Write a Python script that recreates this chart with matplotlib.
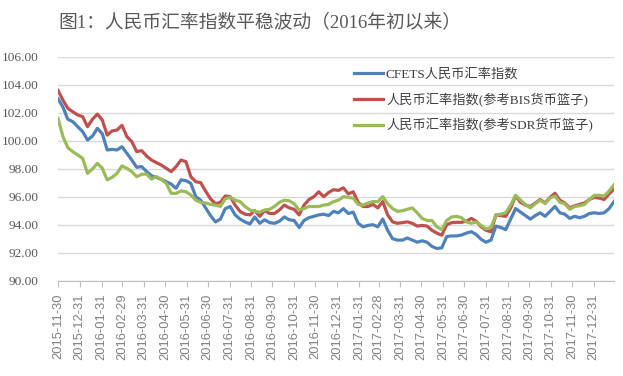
import matplotlib
matplotlib.use("Agg")
import matplotlib.pyplot as plt
import pandas as pd

# ---- data (weekly) ----
start_date = "2015-11-30"
n_weeks = 114
dates = pd.date_range(start_date, periods=n_weeks, freq="7D")

cfets = [103.0, 102.4, 101.53, 101.36, 101.0, 100.65, 100.05, 100.33, 100.88, 100.5,
         99.34, 99.38, 99.34, 99.57, 99.1, 98.62, 98.1, 98.15, 97.8, 97.5,
         97.38, 97.24, 97.07, 96.9, 96.6, 97.2, 97.15, 96.95, 96.0,
         95.75, 95.2, 94.65, 94.2, 94.4, 95.15, 95.3, 94.7, 94.4, 94.2,
         94.05, 94.55, 94.1, 94.35, 94.15, 94.1, 94.25, 94.55, 94.35, 94.3,
         93.8, 94.3, 94.5, 94.6, 94.7, 94.75, 94.65, 94.95, 94.85,
         95.15, 94.8, 94.9, 94.1, 93.85, 93.95, 94.0, 93.85, 94.4, 93.6,
         93.0, 92.9, 92.9, 93.05, 92.9, 92.75, 92.85, 92.75, 92.45, 92.3,
         92.35, 93.15, 93.2, 93.2, 93.26, 93.4, 93.5, 93.3,
         92.95, 92.75, 92.9, 93.9, 93.8, 93.65, 94.4, 95.15, 94.9, 94.65,
         94.4, 94.65, 94.85, 94.6, 94.95, 95.3, 94.85, 94.75, 94.45, 94.6,
         94.5, 94.6, 94.8, 94.85, 94.8, 94.85, 95.15, 95.65]

bis = [103.6, 102.9, 102.31, 102.07, 101.84, 101.72, 101.0, 101.53, 101.9, 101.48,
       100.4, 100.7, 100.76, 101.1, 100.29, 99.93, 99.22, 99.29, 98.91, 98.62,
       98.43, 98.26, 98.03, 97.79, 98.15, 98.62, 98.5, 97.43, 97.07,
       97.0, 96.4, 95.85, 95.5, 95.6, 96.05, 96.0, 95.4, 94.95, 94.75,
       94.7, 95.0, 94.6, 95.0, 94.8, 94.8, 95.05, 95.4, 95.2, 95.1,
       94.7, 95.4, 95.8, 96.0, 96.35, 96.0, 96.3, 96.5, 96.45,
       96.64, 96.2, 96.35, 95.6, 95.3, 95.3, 95.45, 95.2, 95.65, 94.7,
       94.2, 94.1, 94.15, 94.2, 94.1, 93.9, 93.95, 93.9, 93.6, 93.4,
       93.25, 94.0, 94.15, 94.17, 94.17, 94.25, 94.45, 94.25,
       93.85, 93.6, 93.5, 94.7, 94.65, 94.6, 95.2, 96.05, 95.6, 95.4,
       95.3, 95.55, 95.8, 95.55, 95.95, 96.25, 95.75, 95.55, 95.2, 95.35,
       95.45, 95.55, 95.8, 95.95, 95.9, 95.8, 96.2, 96.55]

sdr = [101.6, 100.3, 99.5, 99.22, 98.98, 98.74, 97.67, 97.98, 98.38, 98.03,
       97.2, 97.38, 97.67, 98.2, 98.03, 97.79, 97.43, 97.6, 97.62, 97.26,
       97.43, 97.24, 96.95, 96.24, 96.24, 96.41, 96.36, 96.12, 95.75,
       95.6, 95.55, 95.45, 95.4, 95.3, 95.85, 95.95, 95.75, 95.65, 95.3,
       95.05, 94.95, 94.9, 95.05, 95.1, 95.3, 95.6, 95.75, 95.7, 95.5,
       95.05, 95.15, 95.3, 95.3, 95.3, 95.4, 95.45, 95.65, 95.75,
       96.0, 95.95, 95.9, 95.45, 95.4, 95.55, 95.65, 95.65, 96.0, 95.5,
       95.15, 94.95, 95.0, 95.1, 95.2, 94.85, 94.45, 94.3, 94.3, 93.85,
       93.65, 94.3, 94.55, 94.6, 94.5, 94.2, 94.1, 94.2,
       93.95, 93.7, 93.8, 94.7, 94.75, 94.85, 95.4, 96.1, 95.75, 95.45,
       95.2, 95.5, 95.75, 95.5, 95.9, 96.05, 95.6, 95.5, 95.1, 95.3,
       95.35, 95.45, 95.8, 96.1, 96.1, 96.05, 96.4, 96.85]

series_names = ["CFETS人民币汇率指数", "人民币汇率指数(参考BIS货币篮子)", "人民币汇率指数(参考SDR货币篮子)"]
series_colors = ["#4F81BD", "#C0504D", "#9BBB59"]
title = "图1：人民币汇率指数平稳波动（2016年初以来）"
yticks = [90, 92, 94, 96, 98, 100, 102, 104, 106]
tick_dates = pd.date_range("2015-11-30", "2017-12-31", freq="ME")

# ---- figure ----
fam = ["Liberation Serif", "Noto Sans CJK SC", "DejaVu Sans"]
fig = plt.figure(figsize=(6.23, 3.76), dpi=100)
ax = fig.add_axes([58 / 623, 1 - 280.7 / 376, (614 - 58) / 623, (280.7 - 56.7) / 376])

for vals, name, col in zip([cfets, bis, sdr], series_names, series_colors):
    ax.plot(dates, vals, color=col, lw=2.3, label=name, solid_joinstyle="round")

ax.set_ylim(90, 106)
ax.set_xlim(dates[0], dates[-1])
ax.set_yticks(yticks)
ax.set_yticklabels([f"{v:.2f}" for v in yticks], family=fam, fontsize=9.6, color="#595959")
ax.set_xticks(tick_dates)
ax.set_xticklabels([d.strftime("%Y-%m-%d") for d in tick_dates], rotation=90,
                   family=["Liberation Sans"], fontsize=9.3, color="#808080")
ax.tick_params(axis="y", length=0, pad=14)
ax.tick_params(axis="x", length=4, width=0.8, color="#BFBFBF", direction="out", pad=5)
ax.grid(axis="y", color="#D9D9D9", lw=1)
ax.set_axisbelow(True)
for s in ["left", "top", "right"]:
    ax.spines[s].set_visible(False)
ax.spines["bottom"].set_color("#BFBFBF")
ax.spines["bottom"].set_linewidth(0.8)

leg = ax.legend(loc="upper left", bbox_to_anchor=((349 - 58) / 556, 1 - (63 - 56.7) / 224),
                frameon=False, prop={"family": fam, "size": 9.5}, handlelength=2.2,
                handletextpad=0.2, labelspacing=0.88, borderaxespad=0)
for t in leg.get_texts():
    t.set_color("#404040")

fig.text(260 / 623, 1 - 23 / 376, title, ha="center", va="center", family=fam,
         fontsize=13.5, color="#595959")

fig.savefig("out.png", dpi=100)
